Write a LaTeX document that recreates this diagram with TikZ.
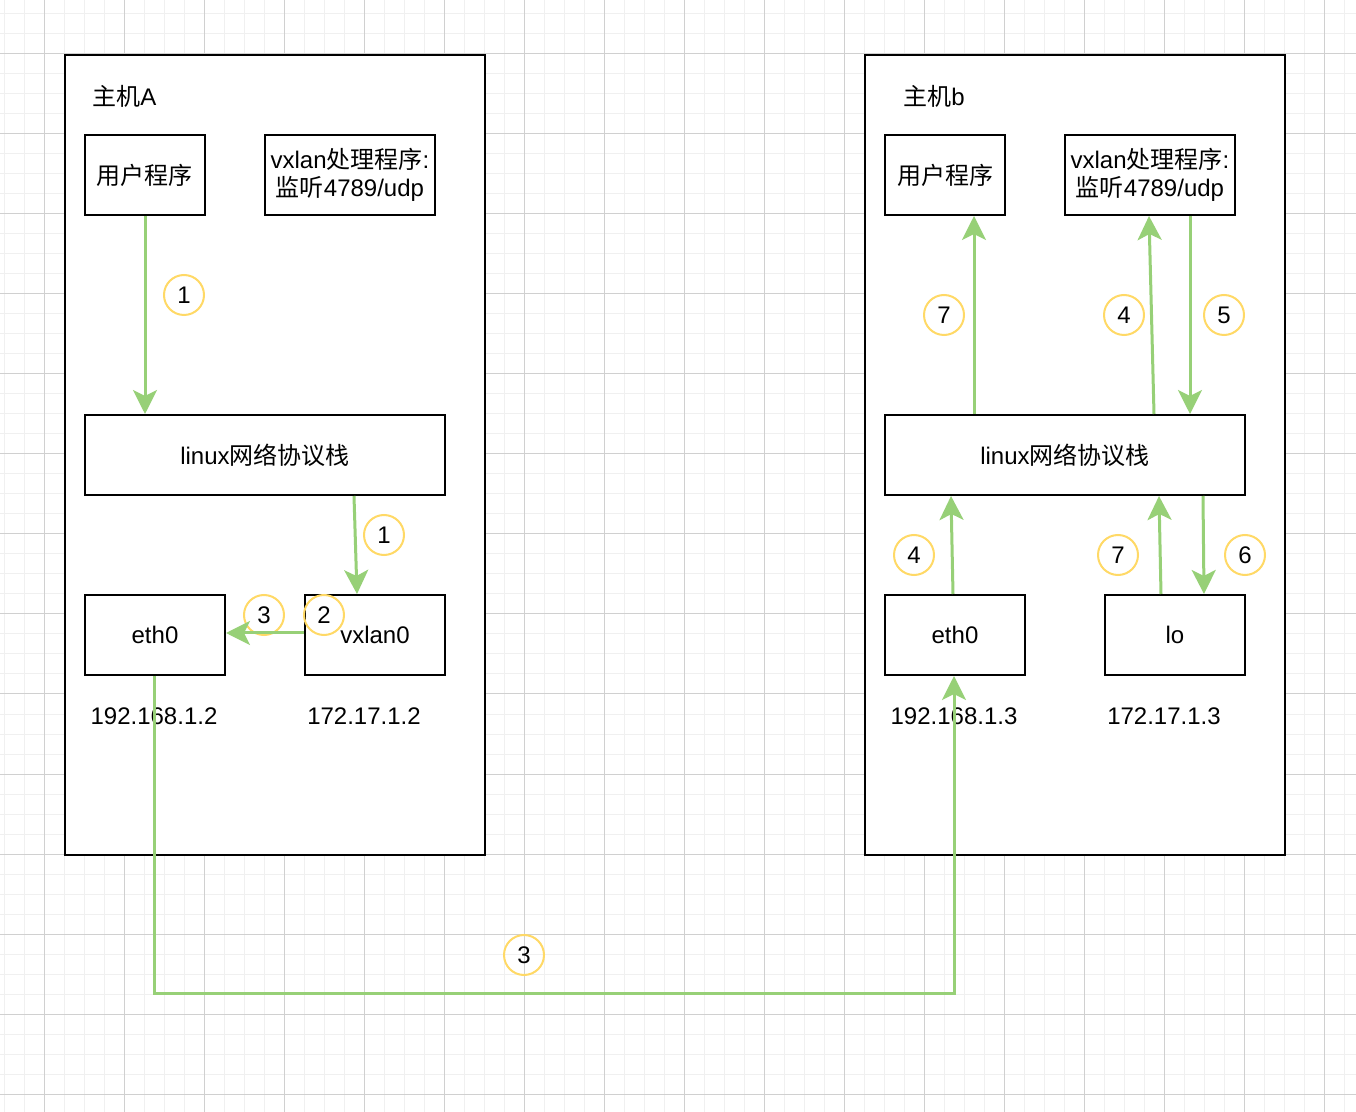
\documentclass[tikz,border=0pt]{standalone}
\usepackage{fontspec}
\setmainfont{Liberation Sans}
\newfontfamily\cjk{Noto Sans CJK SC}
\usetikzlibrary{arrows.meta,calc}
\definecolor{gr}{HTML}{97D077}
\definecolor{yl}{HTML}{FFD966}
\definecolor{gmin}{HTML}{F0F0F0}
\definecolor{gmaj}{HTML}{D0D0D0}
\begin{document}
\begin{tikzpicture}[x=0.5pt,y=-0.5pt,
  every node/.style={font=\fontsize{12}{14}\selectfont},
  box/.style={draw=black,line width=1pt,fill=white,inner sep=0pt,align=center},
  host/.style={draw=black,line width=1pt,fill=white,inner sep=0pt},
  num/.style={circle,draw=yl,line width=1pt,minimum size=20pt,inner sep=0pt},
  flow/.style={draw=gr,line width=1.5pt,-{Stealth[length=12pt,width=12pt,inset=3pt]}},
  ttl/.style={anchor=west,inner sep=0pt}
]
\useasboundingbox (0,0) rectangle (1356,1112);
\fill[white] (0,0) rectangle (1356,1112);
\foreach \x in {4,24,...,1356} \draw[gmin,line width=0.5pt] (\x,0) -- (\x,1112);
\foreach \y in {14,34,...,1112} \draw[gmin,line width=0.5pt] (0,\y) -- (1356,\y);
\foreach \x in {44,124,...,1356} \draw[gmaj,line width=0.5pt] (\x,0) -- (\x,1112);
\foreach \y in {54,134,...,1112} \draw[gmaj,line width=0.5pt] (0,\y) -- (1356,\y);

% hosts
\node[host,minimum width=210pt,minimum height=400pt] (hostA) at (275,455) {};
\node[host,minimum width=210pt,minimum height=400pt] (hostB) at (1075,455) {};
\node[ttl] (titleA) at (92,96) {{\cjk 主机}A};
\node[ttl] (titleB) at (903,96) {{\cjk 主机}b};

% host A nodes
\node[box,minimum width=60pt,minimum height=40pt] (userA) at (145,175) {\cjk 用户程序};
\node[box,minimum width=85pt,minimum height=40pt] (vxA) at (350,175) {vxlan{\cjk 处理程序}:\\{\cjk 监听}4789/udp};
\node[box,minimum width=180pt,minimum height=40pt] (stackA) at (265,455) {linux{\cjk 网络协议栈}};
\node[box,minimum width=70pt,minimum height=40pt] (ethA) at (155,635) {eth0};
\node[box,minimum width=70pt,minimum height=40pt] (vxlA) at (375,635) {vxlan0};
\node (ipA1) at (154,716) {192.168.1.2};
\node (ipA2) at (364,716) {172.17.1.2};

% host B nodes
\node[box,minimum width=60pt,minimum height=40pt] (userB) at (945,175) {\cjk 用户程序};
\node[box,minimum width=85pt,minimum height=40pt] (vxB) at (1150,175) {vxlan{\cjk 处理程序}:\\{\cjk 监听}4789/udp};
\node[box,minimum width=180pt,minimum height=40pt] (stackB) at (1065,455) {linux{\cjk 网络协议栈}};
\node[box,minimum width=70pt,minimum height=40pt] (ethB) at (955,635) {eth0};
\node[box,minimum width=70pt,minimum height=40pt] (lo) at (1175,635) {lo};
\node (ipB1) at (954,716) {192.168.1.3};
\node (ipB2) at (1164,716) {172.17.1.3};

% step circles
\node[num] (n1) at (184,295) {1};
\node[num] (n2) at (384,535) {1};
\node[num] (n3) at (264,615) {3};
\node[num] (n4) at (324,615) {2};
\node[num] (n5) at (524,955) {3};
\node[num] (n6) at (944,315) {7};
\node[num] (n7) at (1124,315) {4};
\node[num] (n8) at (1224,315) {5};
\node[num] (n9) at (914,555) {4};
\node[num] (n10) at (1118,555) {7};
\node[num] (n11) at (1245,555) {6};

% host A flows
\draw[flow] (userA.south) -- (userA.south |- stackA.north);
\draw[flow] ($(stackA.south west)+(270,0)$) -- ($(vxlA.north)+(-18,0)$);
\draw[flow] ($(vxlA.west)+(0,-2)$) -- ($(ethA.east)+(0,-2)$);

% link between hosts
\coordinate (bend) at (954,993);
\draw[flow] ($(ethA.south)+(-1,0)$) |- (bend) -- ($(ethB.south)+(-1,0)$);

% host B flows
\draw[flow] ($(stackB.north west)+(90,0)$) -- ($(userB.south west)+(90,0)$);
\draw[flow] ($(stackB.north west)+(270,0)$) -- ($(vxB.south west)+(85,0)$);
\draw[flow] ($(vxB.south west)+(126,0)$) -- ($(stackB.north west)+(306,0)$);
\draw[flow] ($(ethB.north)+(-2,0)$) -- ($(stackB.south west)+(67,0)$);
\draw[flow] ($(lo.north)+(-14,0)$) -- ($(stackB.south west)+(275,0)$);
\draw[flow] ($(stackB.south west)+(319,0)$) -- ($(lo.north)+(29,0)$);
\end{tikzpicture}
\end{document}
